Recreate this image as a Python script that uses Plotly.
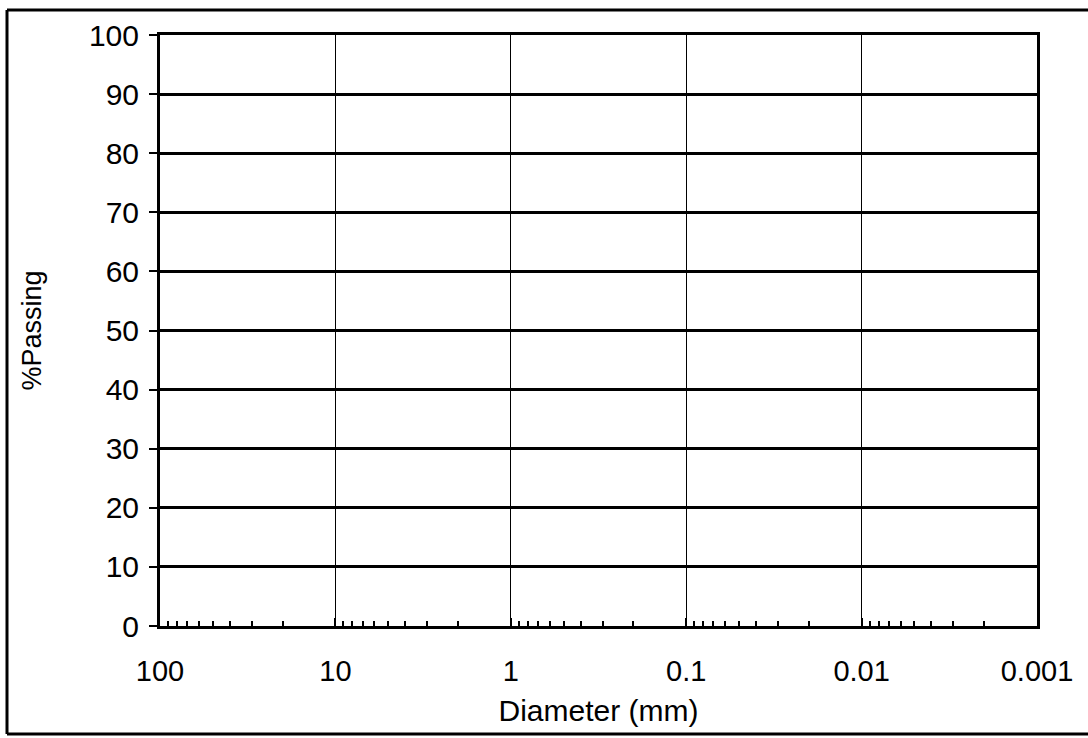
import plotly.graph_objects as go

# Axis values
x_ticks = [100, 10, 1, 0.1, 0.01, 0.001]
x_labels = ["100", "10", "1", "0.1", "0.01", "0.001"]
minor_mult = [2, 3, 4, 5, 6, 7, 8, 9]
decades = [10, 1, 0.1, 0.01, 0.001]
x_minor = [m * d for d in decades for m in minor_mult]
y_ticks = [0, 10, 20, 30, 40, 50, 60, 70, 80, 90, 100]
y_labels = [str(v) for v in y_ticks]

# Empty data series (blank grading chart)
diam = []
passing = []

W, H = 1088, 738
L, T = 160, 35
pw, ph = 877, 591
R, B = W - L - pw, H - T - ph

font = "Liberation Sans, Arial, sans-serif"

fig = go.Figure()
fig.add_trace(go.Scatter(x=diam, y=passing, mode="lines", showlegend=False))

fig.update_layout(
    width=W, height=H,
    margin=dict(l=L, r=R, t=T, b=B, autoexpand=False),
    paper_bgcolor="white", plot_bgcolor="white",
    font=dict(family=font, size=29, color="black"),
    showlegend=False,
)

fig.update_xaxes(
    type="log", range=[2, -3], autorange=False,
    tickmode="array", tickvals=x_ticks, ticktext=x_labels,
    ticks="inside", ticklen=8, tickwidth=2, tickcolor="black",
    ticklabelstandoff=17,
    showgrid=True, gridcolor="black", gridwidth=1,
    showline=True, linecolor="black", linewidth=3, mirror=True,
    zeroline=False, automargin=False,
    tickfont=dict(size=29),
    minor=dict(tickmode="array", tickvals=x_minor, ticks="inside",
               ticklen=5, tickwidth=2, tickcolor="black", showgrid=False),
    title=dict(text="Diameter (mm)", font=dict(size=30), standoff=15),
)

fig.update_yaxes(
    range=[0, 100], autorange=False,
    tickmode="array", tickvals=y_ticks, ticktext=y_labels,
    ticks="outside", ticklen=8, tickwidth=2, tickcolor="black",
    ticklabelstandoff=4,
    showgrid=True, gridcolor="black", gridwidth=2.5,
    showline=True, linecolor="black", linewidth=3, mirror=True,
    zeroline=False, automargin=False,
    tickfont=dict(size=30),
    title=dict(text="%Passing", font=dict(size=27), standoff=40),
)

# outer frame of the figure: left, top and bottom edges (right edge is cut off)
fx0, fy_top, fy_bot = (7 - L) / pw, (T + ph - 10) / ph, -(734 - (T + ph)) / ph
fx1 = (W + 20 - L) / pw
frame = dict(color="black", width=3)
fig.add_shape(type="line", xref="paper", yref="paper",
              x0=fx0, x1=fx0, y0=fy_bot, y1=fy_top, line=frame, layer="below")
fig.add_shape(type="line", xref="paper", yref="paper",
              x0=fx0, x1=fx1, y0=fy_top, y1=fy_top, line=frame, layer="below")
fig.add_shape(type="line", xref="paper", yref="paper",
              x0=fx0, x1=fx1, y0=fy_bot, y1=fy_bot, line=frame, layer="below")

fig.write_html(
    "out.html",
    config={"displayModeBar": False},
    post_script="document.body.style.margin='0';document.body.style.overflow='hidden';",
)
